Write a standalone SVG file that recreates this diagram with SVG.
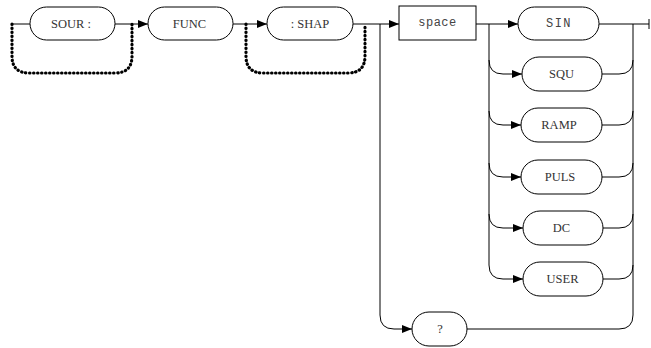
<svg xmlns="http://www.w3.org/2000/svg" width="651" height="348" viewBox="0 0 651 348">
<defs>
<marker id="ah" viewBox="0 0 10 8" refX="10" refY="4" markerWidth="10" markerHeight="8" markerUnits="userSpaceOnUse" orient="auto">
<path d="M0,0 L10,4 L0,8 Z" fill="#000"/>
</marker>
</defs>
<style>
.n{fill:#fff;stroke:#000;stroke-width:1}
.t{font-family:"Liberation Serif","Times New Roman",serif;font-size:12.5px;fill:#333;text-anchor:middle;dominant-baseline:central}
.m{font-family:"Liberation Mono","Courier New",monospace;font-size:12px;fill:#444;text-anchor:middle;dominant-baseline:central}
.l{fill:none;stroke:#000;stroke-width:1}
.a{marker-end:url(#ah)}
.d{fill:none;stroke:#000;stroke-width:3.2;stroke-linecap:round;stroke-dasharray:0.4 3.6}
</style>
<g id="connectors">
<path class="l" d="M12,24 H30"/>
<path class="l a" d="M115,24 H148"/>
<path class="l a" d="M233,24 H267"/>
<path class="l a" d="M353,24 H399"/>
<path class="l a" d="M476,24 H518"/>
<path class="l" d="M599,24 H649"/>
<path class="l" d="M649,19 V29" stroke-width="2"/>
<path class="d" d="M12,24 V56 Q12,73 29,73 H115 Q132,73 132,56 V24"/>
<path class="d" d="M246,24 V56 Q246,73 263,73 H348 Q365,73 365,56 V24"/>
<path class="l" d="M489,24 V265 Q489,279 503,279"/>
<path class="l a" d="M489,60 Q489,74 503,74 H522"/>
<path class="l a" d="M489,111 Q489,125 503,125 H521"/>
<path class="l a" d="M489,163 Q489,177 503,177 H521"/>
<path class="l a" d="M489,214 Q489,228 503,228 H523"/>
<path class="l a" d="M503,279 H523"/>
<path class="l" d="M380,24 V315 Q380,329 394,329"/>
<path class="l a" d="M394,329 H412"/>
<path class="l" d="M633,24 V315 Q633,329 619,329 H467"/>
<path class="l" d="M602,74 H619 Q633,74 633,60"/>
<path class="l" d="M602,125 H619 Q633,125 633,111"/>
<path class="l" d="M602,177 H619 Q633,177 633,163"/>
<path class="l" d="M603,228 H619 Q633,228 633,214"/>
<path class="l" d="M603,279 H619 Q633,279 633,265"/>
</g>
<g id="sour"><rect class="n" x="30" y="7" width="85" height="33" rx="16.5"/><text class="t" x="71" y="24">SOUR :</text></g>
<g id="func"><rect class="n" x="148" y="7" width="85" height="33" rx="16.5"/><text class="t" x="189.5" y="24">FUNC</text></g>
<g id="shap"><rect class="n" x="267" y="7" width="86" height="33" rx="16.5"/><text class="t" x="310" y="24">: SHAP</text></g>
<g id="space"><rect class="n" x="399" y="6" width="77" height="34"/><text class="m" x="437.5" y="23" font-size="13" letter-spacing="0.5">space</text></g>
<g id="sin"><rect class="n" x="518" y="7" width="81" height="33" rx="16.5"/><text class="m" x="559" y="24" letter-spacing="1.5">SIN</text></g>
<g id="squ"><rect class="n" x="522" y="57" width="80" height="34" rx="17"/><text class="t" x="561.5" y="74">SQU</text></g>
<g id="ramp"><rect class="n" x="521" y="108" width="81" height="34" rx="17"/><text class="t" x="559" y="125">RAMP</text></g>
<g id="puls"><rect class="n" x="521" y="160" width="81" height="34" rx="17"/><text class="t" x="560" y="177">PULS</text></g>
<g id="dc"><rect class="n" x="523" y="211" width="80" height="34" rx="17"/><text class="t" x="561.5" y="228">DC</text></g>
<g id="user"><rect class="n" x="523" y="262" width="80" height="34" rx="17"/><text class="t" x="562.5" y="279">USER</text></g>
<g id="query"><rect class="n" x="412" y="312" width="55" height="34" rx="17"/><text class="t" x="440" y="329">?</text></g>
</svg>
